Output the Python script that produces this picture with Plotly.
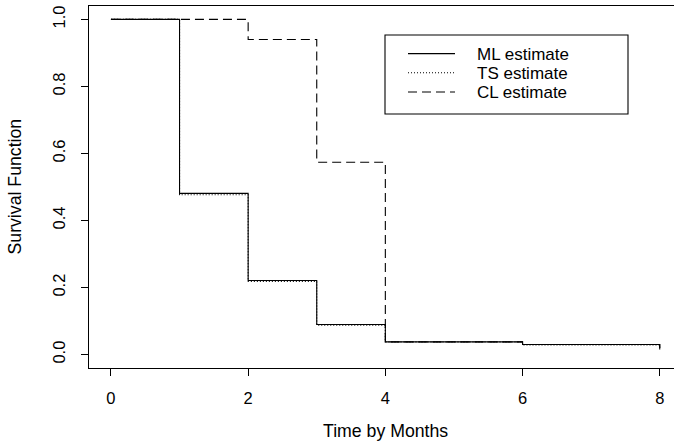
import plotly.graph_objects as go

# Survival estimates by month
months = [0, 1, 2, 3, 4, 5, 6, 7, 8]
ml_estimate = [1.0, 0.481, 0.221, 0.090, 0.038, 0.038, 0.030, 0.030, 0.015]
ts_estimate = [1.0, 0.477, 0.218, 0.088, 0.038, 0.038, 0.029, 0.029, 0.015]
cl_estimate = [1.0, 1.0, 0.940, 0.574, 0.038, 0.038, 0.030, 0.030, 0.015]

x_ticks = [0, 2, 4, 6, 8]
y_ticks = [0.0, 0.2, 0.4, 0.6, 0.8, 1.0]

legend_labels = ["ML estimate", "TS estimate", "CL estimate"]
legend_dashes = ["solid", "1px,2px", "9px,5px"]

FONT = "Liberation Sans, Arial, Helvetica, sans-serif"
TICK_SIZE = 16.5
TEXT_SIZE = 17.7
LEGEND_SIZE = 17
W, H = 674, 441
ML, MR, MT, MB = 89, 0, 6, 73
PW, PH = W - ML - MR, H - MT - MB


def fx(px):
    return (px - ML) / PW


def fy(py):
    return (H - MB - py) / PH


fig = go.Figure()
for label, values, dash in zip(legend_labels, [ml_estimate, ts_estimate, cl_estimate], legend_dashes):
    fig.add_trace(go.Scatter(
        x=months, y=values, mode="lines", name=label,
        line=dict(shape="hv", color="black", width=1.1, dash=dash),
        showlegend=False, hoverinfo="skip",
    ))

# Boxed legend in the upper right
shapes = [dict(type="rect", xref="paper", yref="paper",
               x0=fx(385), x1=fx(628), y0=fy(114), y1=fy(35),
               line=dict(color="black", width=1.1), fillcolor="white", layer="above")]
annotations = []
row_y = [53.6, 72.8, 92.0]
for label, dash, py in zip(legend_labels, legend_dashes, row_y):
    shapes.append(dict(type="line", xref="paper", yref="paper",
                       x0=fx(408), x1=fx(455), y0=fy(py), y1=fy(py),
                       line=dict(color="black", width=1.1, dash=dash), layer="above"))
    annotations.append(dict(xref="paper", yref="paper", x=fx(476), y=fy(py + 0.5),
                            text=label, showarrow=False, xanchor="left", yanchor="middle",
                            borderpad=0,
                            font=dict(family=FONT, size=LEGEND_SIZE, color="black")))

# Axis titles
annotations.append(dict(xref="paper", yref="paper", x=fx(385.5), y=fy(431),
                        text="Time by Months", showarrow=False,
                        xanchor="center", yanchor="middle",
                        font=dict(family=FONT, size=TEXT_SIZE, color="black")))
annotations.append(dict(xref="paper", yref="paper", x=fx(14), y=fy(186.5),
                        text="Survival Function", showarrow=False, textangle=-90,
                        xanchor="center", yanchor="middle",
                        font=dict(family=FONT, size=TEXT_SIZE, color="black")))

fig.update_layout(
    width=W, height=H,
    margin=dict(l=ML, r=MR, t=MT, b=MB, pad=0),
    paper_bgcolor="white", plot_bgcolor="white",
    font=dict(family=FONT, size=TICK_SIZE, color="black"),
    shapes=shapes, annotations=annotations,
    xaxis=dict(range=[-0.32, 8.208], tickvals=x_ticks, ticktext=[str(v) for v in x_ticks],
               showline=True, mirror=True, linecolor="black", linewidth=1.1,
               ticks="outside", ticklen=7, tickwidth=1, tickcolor="black",
               ticklabelstandoff=8,
               showgrid=False, zeroline=False, fixedrange=True),
    yaxis=dict(range=[-0.04, 1.04], tickvals=y_ticks, ticktext=[f"{v:.1f}" for v in y_ticks],
               tickangle=-90,
               showline=True, mirror=False, linecolor="black", linewidth=1.1,
               ticks="outside", ticklen=7, tickwidth=1, tickcolor="black",
               ticklabelstandoff=9,
               showgrid=False, zeroline=False, fixedrange=True),
)

fig.write_html("out.html")
